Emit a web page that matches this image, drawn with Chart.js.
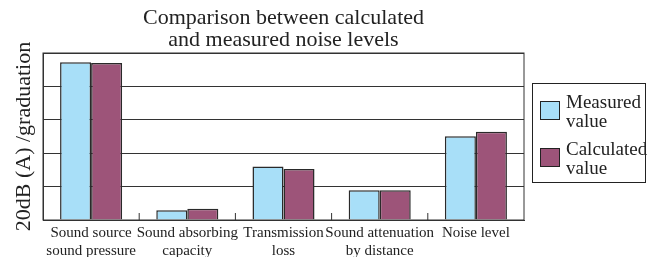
<!DOCTYPE html>
<html>
<head>
<meta charset="utf-8">
<script src="https://cdn.jsdelivr.net/npm/chart.js@4/dist/chart.umd.min.js"></script>
<style>
  body { margin: 0; background: #fff; }
  #wrap { position: relative; width: 653px; height: 257px; }
  #legend {
    position: absolute; left: 532px; top: 83px; width: 112px; height: 98px;
    border: 1px solid #222; font-family: "Liberation Serif", serif; font-size: 19px;
    color: #222; line-height: 19px;
  }
  .item { position: absolute; left: 7px; }
  .sw { position: absolute; left: 0; top: 9px; width: 20px; height: 19px; border: 1.5px solid #222; box-sizing: border-box; }
  .txt { position: absolute; left: 26px; top: 0; white-space: nowrap; }
</style>
</head>
<body>
<div id="wrap">
  <canvas id="chart" width="653" height="257"></canvas>
  <div id="legend"></div>
</div>
<script>
// データ（縦軸: 1目盛 = 20dB(A)）
const categories = [
  ["Sound source", "sound pressure"],
  ["Sound absorbing", "capacity"],
  ["Transmission", "loss"],
  ["Sound attenuation", "by distance"],
  "Noise level"
];
const seriesNames = [["Measured", "value"], ["Calculated", "value"]];
const measured = [4.72, 0.29, 1.60, 0.89, 2.51];
const calculated = [4.70, 0.34, 1.53, 0.89, 2.64];
const yTicks = [0, 1, 2, 3, 4, 5];
const colors = ["#A8DFF8", "#9D5479"];

// 枠と区切りの目盛りを描く
const framePlugin = {
  id: "frame",
  afterDatasetsDraw(chart) {
    const ctx = chart.ctx;
    const a = chart.chartArea;
    const x = chart.scales.x;
    ctx.save();
    ctx.strokeStyle = "#333";
    ctx.lineWidth = 1;
    ctx.strokeRect(a.left, a.top, a.right - a.left, a.bottom - a.top);
    for (let i = 0; i < categories.length - 1; i++) {
      const bx = (x.getPixelForTick(i) + x.getPixelForTick(i + 1)) / 2;
      ctx.beginPath();
      ctx.moveTo(bx, a.bottom);
      ctx.lineTo(bx, a.bottom - 7);
      ctx.stroke();
    }
    ctx.restore();
  }
};

const serif = "'Liberation Serif', 'Times New Roman', serif";

new Chart(document.getElementById("chart"), {
  type: "bar",
  data: {
    labels: categories,
    datasets: [
      { label: seriesNames[0].join(" "), data: measured, backgroundColor: colors[0] },
      { label: seriesNames[1].join(" "), data: calculated, backgroundColor: colors[1] }
    ]
  },
  options: {
    responsive: false,
    animation: false,
    layout: { padding: { left: 0, right: 129, top: 0, bottom: -7 } },
    datasets: {
      bar: { borderColor: "#2a2a2a", borderWidth: 1.5, categoryPercentage: 0.645, barPercentage: 1.0 }
    },
    plugins: {
      legend: { display: false },
      tooltip: { enabled: false },
      title: {
        display: true,
        fullSize: false,
        text: ["Comparison between calculated", "and measured noise levels"],
        color: "#222",
        font: { family: serif, size: 22, weight: "normal", lineHeight: 1.0 },
        padding: { top: 7, bottom: 2 }
      }
    },
    scales: {
      x: {
        grid: { display: false, drawTicks: false, tickLength: 0 },
        border: { display: true, color: "#333" },
        ticks: {
          color: "#222",
          autoSkip: false,
          maxRotation: 0,
          padding: 4,
          font: { family: serif, size: 15, lineHeight: 1.2 }
        }
      },
      y: {
        min: yTicks[0],
        max: yTicks[yTicks.length - 1],
        afterBuildTicks(scale) { scale.ticks = yTicks.map(v => ({ value: v })); },
        ticks: { display: false },
        grid: { color: "#333", lineWidth: 1, drawTicks: false },
        border: { display: true, color: "#333" },
        title: {
          display: true,
          text: "20dB (A) /graduation",
          color: "#222",
          font: { family: serif, size: 22, lineHeight: 1.0 },
          padding: { top: 13, bottom: 8 }
        }
      }
    }
  },
  plugins: [framePlugin]
});

// 凡例（2行ラベル）
const legend = document.getElementById("legend");
seriesNames.forEach(function (name, i) {
  const item = document.createElement("div");
  item.className = "item";
  item.style.top = (8 + i * 47) + "px";
  item.innerHTML = '<div class="sw" style="background:' + colors[i] + '"></div>' +
    '<div class="txt">' + name[0] + "<br>" + name[1] + "</div>";
  legend.appendChild(item);
});
</script>
</body>
</html>
